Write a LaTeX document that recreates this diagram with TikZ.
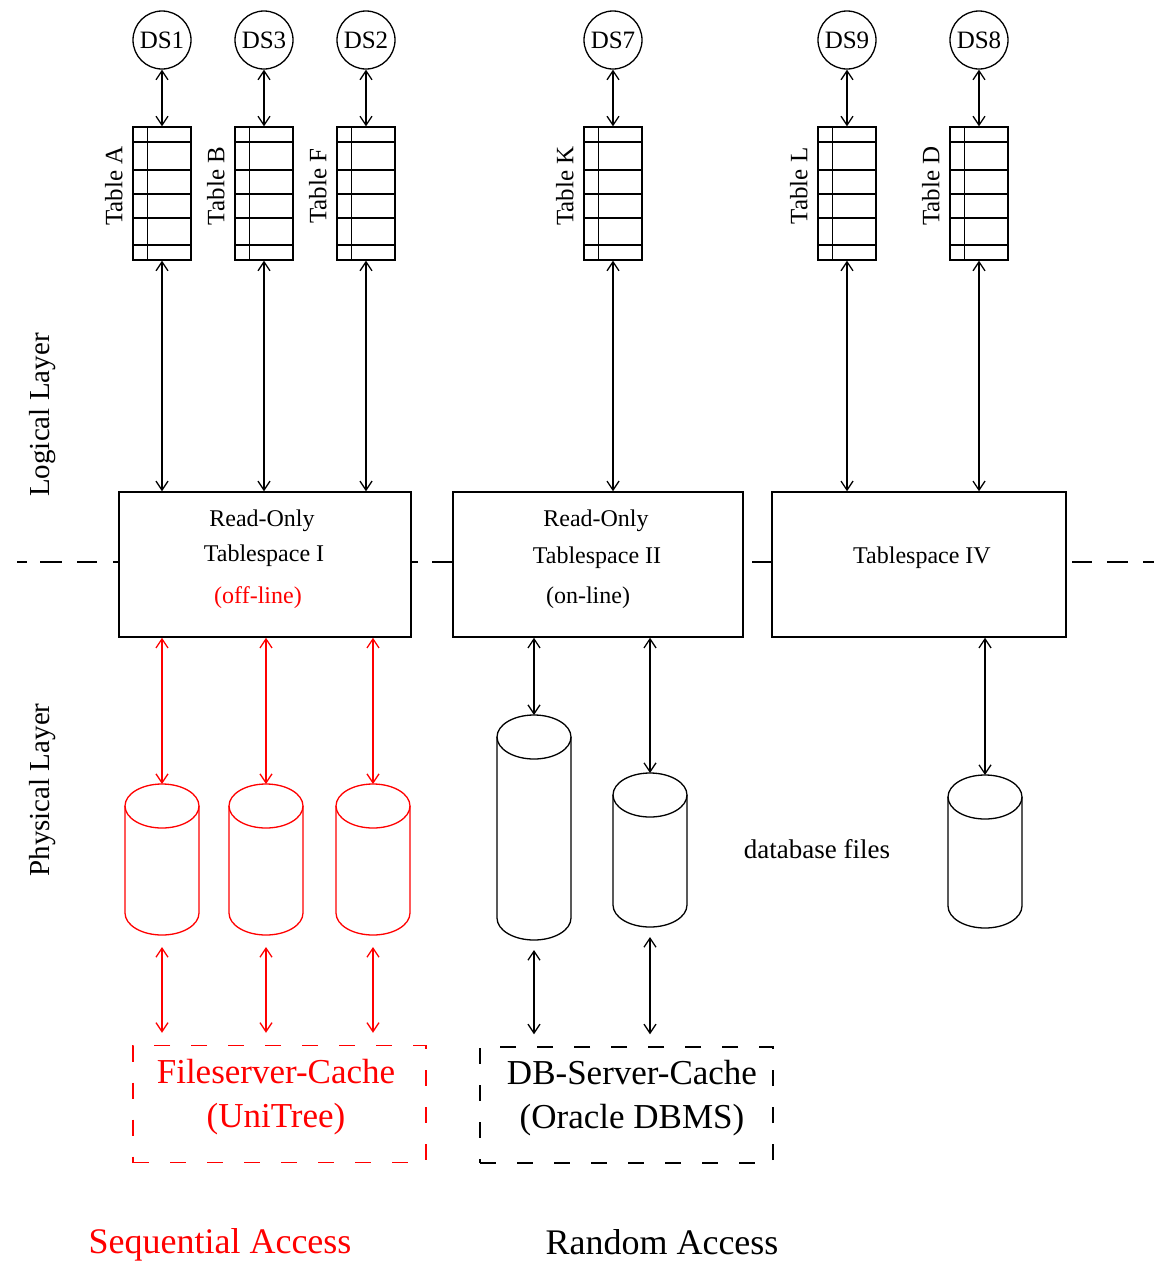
\documentclass[tikz,border=0pt]{standalone}
\usepackage{fontspec}
\setmainfont{Liberation Serif}
\usetikzlibrary{arrows.meta}
\tikzset{
  lw/.style={line width=1.3pt},
  bi/.style={lw, {Straight Barb[length=9pt,width=12pt]}-{Straight Barb[length=9pt,width=12pt]}},
  dsnode/.style={circle, draw, lw, minimum size=58pt, inner sep=0pt, font=\fontsize{25}{25}\selectfont},
  tbl/.style={draw, lw, minimum width=58pt, minimum height=133pt, inner sep=0pt},
  tspace/.style={draw, line width=1.5pt, fill=white, minimum height=145pt, inner sep=0pt},
  boxtxt/.style={font=\fontsize{24}{24}\selectfont, inner sep=0pt},
  tlabel/.style={rotate=90, anchor=base, font=\fontsize{25}{25}\selectfont, inner sep=0pt},
  layerlab/.style={rotate=90, anchor=base, font=\fontsize{29}{29}\selectfont, inner sep=0pt},
  cache/.style={draw, dash pattern=on 16pt off 21pt, line width=1.4pt, minimum width=293pt, minimum height=117pt, inner sep=0pt},
  cachetxt/.style={align=center, inner sep=0pt, font=\fontsize{35}{44}\selectfont},
  cylframe/.style={minimum width=74pt, inner sep=0pt, outer sep=0pt},
  biglab/.style={font=\fontsize{36}{36}\selectfont, inner sep=0pt},
}
\newcommand{\tableicon}[3]{%
  \node[tbl] (#1) at (#2,193.5) {};
  \draw[line width=1.5pt] ([xshift=15pt]#1.north west) -- ([xshift=15pt]#1.south west);
  \foreach \yy in {142,170,194,218,245} {\draw[lw] (#1.west |- 0,\yy) -- (#1.east |- 0,\yy);}
  \node[tlabel] (#1lab) at ([xshift=-10pt]#1.west |- 0,186) {#3};
}
\newcommand{\cylinderdraw}[5]{%
  \pgfmathsetmacro\cylh{#4-#3}%
  \pgfmathsetmacro\cylm{(#3+#4)/2}%
  \node[cylframe, minimum height=\cylh pt] (#1) at (#2,\cylm) {};
  \draw[#5, lw] (#2,{#3+22}) ellipse [x radius=37pt, y radius=22pt];
  \draw[#5, lw] ({#2-37},{#3+22}) -- ({#2-37},{#4-22})
     arc[start angle=180, end angle=360, x radius=37pt, y radius=22pt]
     -- ({#2+37},{#3+22});
}
\begin{document}
\begin{tikzpicture}[x=1pt,y=-1pt]
\useasboundingbox (0,0) rectangle (1154,1264);

% layer divider
\draw[line width=1.4pt] (17,562)--(27,562) (40,562)--(62,562) (77,562)--(97,562) (113,562)--(119,562)
  (411,562)--(418,562) (432,562)--(453,562) (752,562)--(772,562)
  (1072,562)--(1092,562) (1107,562)--(1128,562) (1143,562)--(1154,562);

% layer labels
\node[layerlab] (logl) at (49,415) {Logical Layer};
\node[layerlab] (phyl) at (49,790) {Physical Layer};

% data sets
\node[dsnode] (ds1) at (162,40) {DS1};
\node[dsnode] (ds3) at (264,40) {DS3};
\node[dsnode] (ds2) at (366,40) {DS2};
\node[dsnode] (ds7) at (613,40) {DS7};
\node[dsnode] (ds9) at (847,40) {DS9};
\node[dsnode] (ds8) at (979,40) {DS8};

% tables
\tableicon{tA}{162}{Table A}
\tableicon{tB}{264}{Table B}
\tableicon{tF}{366}{Table F}
\tableicon{tK}{613}{Table K}
\tableicon{tL}{847}{Table L}
\tableicon{tD}{979}{Table D}

% tablespaces
\node[tspace, minimum width=292pt] (ts1) at (265,564.5) {};
\node[tspace, minimum width=290pt] (ts2) at (598,564.5) {};
\node[tspace, minimum width=294pt] (ts4) at (919,564.5) {};

\node[boxtxt] (ts1a) at (262,521) {Read-Only};
\node[boxtxt] (ts1b) at (264,556) {Tablespace I};
\node[boxtxt, red] (ts1c) at (258,598) {(off-line)};
\node[boxtxt] (ts2a) at (596,521) {Read-Only};
\node[boxtxt] (ts2b) at (597,558) {Tablespace II};
\node[boxtxt] (ts2c) at (588,598) {(on-line)};
\node[boxtxt] (ts4a) at (922,558) {Tablespace IV};

% DS <-> tables
\foreach \d/\t in {ds1/tA, ds3/tB, ds2/tF, ds7/tK, ds9/tL, ds8/tD}
  {\draw[bi] (\d.south) -- (\t.north);}

% tables <-> tablespaces
\foreach \t/\s in {tA/ts1, tB/ts1, tF/ts1, tK/ts2, tL/ts4, tD/ts4}
  {\draw[bi] (\t.south) -- (\t.south |- \s.north);}

% cylinders
\cylinderdraw{r1}{162}{784}{935}{red}
\cylinderdraw{r2}{266}{784}{935}{red}
\cylinderdraw{r3}{373}{784}{935}{red}
\cylinderdraw{b1}{534}{715}{940}{black}
\cylinderdraw{b2}{650}{773}{927}{black}
\cylinderdraw{b4}{985}{775}{928}{black}

\node[font=\fontsize{27}{27}\selectfont, inner sep=0pt] (dbf) at (817,849) {database files};

% tablespaces <-> cylinders
\foreach \c in {r1,r2,r3} {\draw[bi, red] (ts1.south -| \c) -- (\c.north);}
\foreach \c in {b1,b2} {\draw[bi] (ts2.south -| \c) -- (\c.north);}
\draw[bi] (ts4.south -| b4) -- (b4.north);

% caches
\node[cache, red] (fsc) at (279.5,1104) {};
\node[cachetxt, red] (fsct) at (276,1097) {Fileserver-Cache\\(UniTree)};
\node[cache, minimum height=116pt] (dbc) at (626.5,1105) {};
\node[cachetxt] (dbct) at (632,1098) {DB-Server-Cache\\(Oracle DBMS)};

\foreach \c in {r1,r2,r3} {\draw[bi, red] ([yshift=-12pt]\c.south) -- ([yshift=12pt]\c.south |- fsc.north);}
\foreach \c in {b1,b2} {\draw[bi] ([yshift=-10pt]\c.south) -- ([yshift=12pt]\c.south |- dbc.north);}

% access labels
\node[biglab, red] (seq) at (220,1245) {Sequential Access};
\node[biglab] (rnd) at (662,1242) {Random Access};
\end{tikzpicture}
\end{document}
